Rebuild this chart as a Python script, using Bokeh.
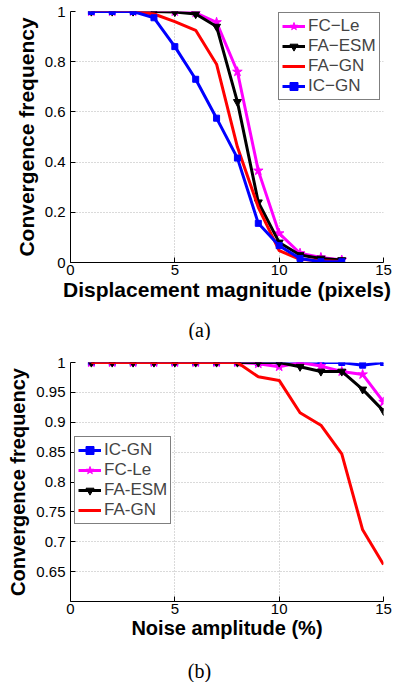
from bokeh.plotting import figure
from bokeh.models import (Range1d, FixedTicker, CustomJSTickFormatter, Legend,
                          LegendItem, Label)
from bokeh.layouts import column
from bokeh.embed import file_html
from bokeh.resources import INLINE

# ---------------- data: panel (a) ----------------
disp = [1, 2, 3, 4, 5, 6, 7, 8, 9, 10, 11, 12, 13]
a_fc_le = [1.0, 1.0, 1.0, 1.0, 1.0, 0.995, 0.957, 0.76, 0.366, 0.116, 0.037, 0.02, 0.01]
a_fa_esm = [1.0, 1.0, 1.0, 1.0, 0.998, 0.99, 0.94, 0.64, 0.24, 0.08, 0.03, 0.016, 0.01]
a_fa_gn = [1.0, 1.0, 1.0, 0.99, 0.96, 0.925, 0.79, 0.46, 0.22, 0.047, 0.013, 0.007, 0.004]
a_ic_gn = [1.0, 1.0, 1.0, 0.975, 0.86, 0.73, 0.575, 0.416, 0.156, 0.067, 0.016, 0.003, 0.003]
a_xticks = [0, 5, 10, 15]
a_yticks = [0, 0.2, 0.4, 0.6, 0.8, 1.0]

# ---------------- data: panel (b) ----------------
noise = [1, 2, 3, 4, 5, 6, 7, 8, 9, 10, 11, 12, 13, 14, 15]
b_ic_gn = [1, 1, 1, 1, 1, 1, 1, 1, 1, 1, 1.0, 1.0, 1.0, 0.9955, 1.0]
b_fc_le = [1, 1, 1, 1, 1, 1, 1, 1, 0.998, 0.993, 1.0, 0.994, 0.985, 0.98, 0.934]
b_fa_esm = [1, 1, 1, 1, 1, 1, 1, 1, 1.0, 1.0, 0.993, 0.985, 0.985, 0.955, 0.919]
b_fa_gn = [1, 1, 1, 1, 1, 1, 1, 1, 0.976, 0.970, 0.916, 0.895, 0.847, 0.72, 0.662]
b_xticks = [0, 5, 10, 15]
b_yticks = [0.65, 0.7, 0.75, 0.8, 0.85, 0.9, 0.95, 1.0]

SANS = "Liberation Sans"
SERIF = "Liberation Serif"
MAGENTA = "#ff00ff"
fmt = CustomJSTickFormatter(code="return String(Math.round(tick*100)/100);")


def style(p, xticks, yticks, xlabel, label_size):
    p.outline_line_color = None
    for ax in (p.xaxis[0], p.yaxis[0]):
        ax.axis_line_color = "black"
        ax.axis_line_width = 1
        ax.major_tick_in = 5
        ax.major_tick_out = 0
        ax.minor_tick_line_color = None
        ax.major_label_text_font = SANS
        ax.major_label_text_font_size = "15px"
        ax.major_label_text_color = "black"
        ax.axis_label_text_font = SANS
        ax.axis_label_text_font_style = "bold"
        ax.axis_label_text_font_size = label_size
        ax.axis_label_text_color = "black"
        ax.formatter = fmt
    p.xaxis[0].ticker = FixedTicker(ticks=xticks)
    p.yaxis[0].ticker = FixedTicker(ticks=yticks)
    p.xaxis[0].axis_label = xlabel
    p.yaxis[0].axis_label = "Convergence frequency"
    p.xaxis[0].major_label_standoff = 2
    p.yaxis[0].major_label_standoff = 5
    p.xaxis[0].axis_label_standoff = 0
    p.yaxis[0].axis_label_standoff = 4
    for g in (p.xgrid[0], p.ygrid[0]):
        g.grid_line_color = "#b4b4b4"
        g.grid_line_dash = "1 2"
        g.grid_line_width = 1


def series(p, x, y, color, marker, size):
    r = [p.line(x, y, line_color=color, line_width=3)]
    if marker is not None:
        r.append(p.scatter(x, y, marker=marker, size=size, fill_color=color,
                           line_color=color))
    return r


def make_legend(items, loc):
    lg = Legend(items=items, location=loc)
    lg.border_line_color = "black"
    lg.border_line_width = 1.5
    lg.background_fill_color = "white"
    lg.background_fill_alpha = 1
    lg.label_text_font = SANS
    lg.label_text_font_size = "17px"
    lg.glyph_width = 23
    lg.glyph_height = 20
    lg.label_height = 20
    lg.label_standoff = 3
    lg.spacing = 0
    lg.padding = 3
    lg.margin = 0
    return lg


def caption_fig(text, height, ymid):
    c = figure(width=400, height=height, output_backend="svg", toolbar_location=None,
               x_range=Range1d(0, 1), y_range=Range1d(0, 1),
               x_axis_type=None, y_axis_type=None, min_border=0,
               min_border_left=0, min_border_right=0, min_border_top=0,
               min_border_bottom=0)
    c.outline_line_color = None
    c.grid.visible = False
    c.background_fill_color = "white"
    c.border_fill_color = "white"
    # frames in the column are aligned (left edge at 70 px)
    c.add_layout(Label(x=129, y=ymid, x_units="screen", y_units="screen", text=text,
                       text_font=SERIF, text_font_size="20px", text_color="black",
                       text_align="center", text_baseline="middle"))
    return c


# ---------------- panel (a) ----------------
pa = figure(width=400, height=312, output_backend="svg", toolbar_location=None,
            x_range=Range1d(0, 15), y_range=Range1d(0, 1),
            min_border_left=66, min_border_right=17, min_border_top=11,
            min_border_bottom=50)
pa.background_fill_color = "white"
pa.border_fill_color = "white"
style(pa, a_xticks, a_yticks, "Displacement magnitude (pixels)", "21px")
r1 = series(pa, disp, a_fc_le, MAGENTA, "star", 10)
r2 = series(pa, disp, a_fa_esm, "black", "inverted_triangle", 8)
r3 = series(pa, disp, a_fa_gn, "#ff0000", None, 0)
r4 = series(pa, disp, a_ic_gn, "#0000ff", "square", 6)
lga = make_legend([LegendItem(label="FC\u2212Le", renderers=r1),
                   LegendItem(label="FA\u2212ESM", renderers=r2),
                   LegendItem(label="FA\u2212GN", renderers=r3),
                   LegendItem(label="IC\u2212GN", renderers=r4)], (208, 162))
pa.add_layout(lga)
cap_a = caption_fig("(a)", 28, 11)

# ---------------- panel (b) ----------------
pb = figure(width=400, height=311, output_backend="svg", toolbar_location=None,
            x_range=Range1d(0, 15), y_range=Range1d(0.6, 1),
            min_border_left=70, min_border_right=17, min_border_top=22,
            min_border_bottom=50)
pb.background_fill_color = "white"
pb.border_fill_color = "white"
style(pb, b_xticks, b_yticks, "Noise amplitude (%)", "20px")
q1 = series(pb, noise, b_ic_gn, "#0000ff", "square", 6)
q2 = series(pb, noise, b_fc_le, MAGENTA, "star", 10)
q3 = series(pb, noise, b_fa_esm, "black", "inverted_triangle", 8)
q4 = series(pb, noise, b_fa_gn, "#ff0000", None, 0)
lgb = make_legend([LegendItem(label="IC-GN", renderers=q1),
                   LegendItem(label="FC-Le", renderers=q2),
                   LegendItem(label="FA-ESM", renderers=q3),
                   LegendItem(label="FA-GN", renderers=q4)], (4, 77))
pb.add_layout(lgb)
cap_b = caption_fig("(b)", 31, 12)

layout = column(pa, cap_a, pb, cap_b, spacing=0)
open("out.html", "w").write(file_html(layout, INLINE))
